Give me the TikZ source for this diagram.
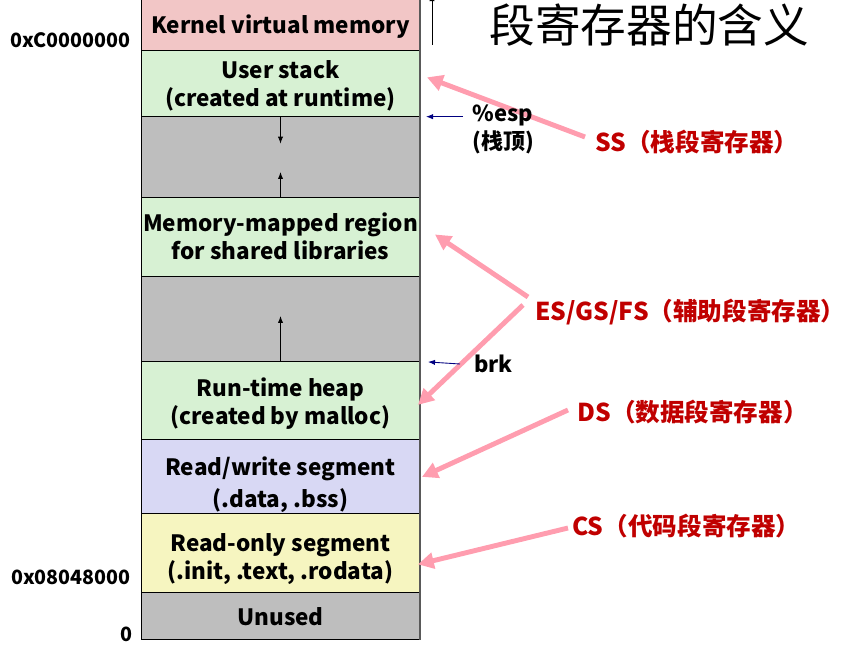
\documentclass[tikz,border=0pt]{standalone}
\usepackage{fontspec}
\setmainfont{Noto Sans CJK SC}
\usetikzlibrary{arrows.meta,calc,positioning}

\definecolor{kernelpink}{HTML}{F2C6C6}
\definecolor{areagreen}{HTML}{D7F1D3}
\definecolor{holegray}{HTML}{BEBEBE}
\definecolor{datablue}{HTML}{D8D8F4}
\definecolor{codeyellow}{HTML}{F6F5C0}
\definecolor{regred}{HTML}{C00000}
\definecolor{pointerpink}{HTML}{FF9DAF}
\definecolor{ptrnavy}{HTML}{000080}

\begin{document}
\begin{tikzpicture}[x=0.02cm, y=-0.02cm, node distance=0pt,
    block/.style={draw=black, line width=0.5pt, minimum width=5.58cm, outer sep=0pt,
      inner sep=0pt, align=center, font=\fontsize{12.8}{16}\selectfont\bfseries},
    addr/.style={anchor=east, inner sep=0pt, font=\fontsize{11.2}{13}\selectfont\bfseries},
    reglabel/.style={anchor=west, inner sep=0pt, text=regred,
      font=\fontsize{14}{16}\selectfont\bfseries},
    ptrlabel/.style={anchor=west, inner sep=0pt, align=left,
      font=\fontsize{12.5}{16}\selectfont\bfseries},
    growth/.style={-{Latex[length=4pt, width=3pt]}, line width=0.5pt},
    ptr/.style={-{Latex[length=4pt, width=3pt]}, ptrnavy, line width=0.5pt},
    segptr/.style={-{Triangle[length=9pt, width=9pt]}, pointerpink, line width=2.8pt}]

  \useasboundingbox (0,0) rectangle (855,645);

  % ===== Address space column =====
  \node[block, fill=kernelpink, minimum height=1.1cm] (kernel) at (280.5, 22.5)
    {\rule{0pt}{1.2em}Kernel virtual memory};
  \node[block, fill=areagreen, minimum height=1.334cm, below=of kernel] (stack)
    {\rule{0pt}{1.05em}User stack\\(created at runtime)};
  \node[block, fill=holegray, minimum height=1.606cm, below=of stack] (gap1) {};
  \node[block, fill=areagreen, minimum height=1.58cm, below=of gap1] (mmap)
    {Memory-mapped region\\for shared libraries};
  \node[block, fill=holegray, minimum height=1.72cm, below=of mmap] (gap2) {};
  \node[block, fill=areagreen, minimum height=1.56cm, below=of gap2] (heap)
    {\rule{0pt}{1.05em}Run-time heap\\(created by malloc)};
  \node[block, fill=datablue, minimum height=1.48cm, below=of heap,
    font=\fontsize{12.8}{18}\selectfont\bfseries] (rw)
    {\rule{0pt}{1.5em}Read/write segment\\(.data, .bss)};
  \node[block, fill=codeyellow, minimum height=1.58cm, below=of rw] (ro)
    {\rule{0pt}{1.3em}Read-only segment\\(.init, .text, .rodata)};
  \node[block, fill=holegray, minimum height=0.94cm, below=of ro] (unused)
    {Unused};

  % right-hand shadow edge
  \draw[gray!70!black, line width=1.2pt] (kernel.north east) -- (unused.south east);

  % growth directions
  \draw[growth] (gap1.north) -- ++(0,27);
  \draw[growth] (gap1.south) -- ++(0,-25);
  \draw[growth] (gap2.south) -- ++(0,-46);
  \draw[growth] (432,45) -- (432,-6);

  % ===== Addresses =====
  \node[addr] (addrkernel) at (131,40) {0xC0000000};
  \node[addr] (addrcode) at (131,577) {0x08048000};
  \node[addr] (addrzero) at (133,634) {0};

  % ===== Title =====
  \node[anchor=west, inner sep=0pt, font=\fontsize{26}{28}\selectfont] (title)
    at (489,25) {段寄存器的含义};

  % ===== Segment registers =====
  \node[reglabel] (ss) at (595,142) {SS（栈段寄存器）};
  \node[reglabel] (es) at (535,312) {ES/GS/FS（辅助段寄存器）};
  \node[reglabel] (ds) at (577,412) {DS（数据段寄存器）};
  \node[reglabel] (cs) at (572,526) {CS（代码段寄存器）};

  \draw[segptr] ($(ss.west)+(-10,-5)$) -- ($(stack.east)+(7,-6)$);
  \draw[segptr] ($(es.west)+(-7,-15)$) -- ($(mmap.east)+(15,-2)$);
  \draw[segptr] ($(es.west)+(-12,-7)$) -- ($(heap.east)+(-2,4)$);
  \draw[segptr] ($(ds.west)+(-9,-2)$) -- ($(rw.east)+(2,0)$);
  \draw[segptr] ($(cs.west)+(-4,2)$) -- ($(ro.east)+(-2,11)$);

  % ===== Pointers =====
  \node[ptrlabel] (esp) at (472,129) {\%esp\\(栈顶)};
  \node[ptrlabel] (brk) at (474,364) {brk};
  \draw[ptr] (esp.west |- stack.south east) ++(-9,0) -- ($(stack.south east)+(6,0)$);
  \draw[ptr] ($(brk.west)+(-14,0)$) -- ($(heap.north east)+(8,0)$);

\end{tikzpicture}
\end{document}
